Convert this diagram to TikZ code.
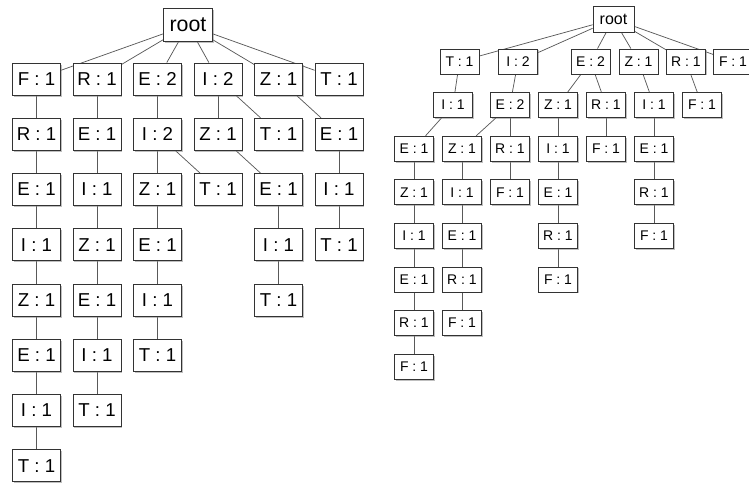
\documentclass[tikz,border=0pt]{standalone}
\usepackage{fontspec}
\setmainfont{Liberation Sans}
\usetikzlibrary{shadows,backgrounds}

\tikzset{
  boxbase/.style={draw=black!80, fill=white, line width=0.6pt, inner sep=0pt},
  bigbox/.style={boxbase, minimum width=36pt, minimum height=24pt,
    font=\fontsize{14}{16}\selectfont,
    drop shadow={shadow xshift=1.1pt, shadow yshift=-1.3pt, opacity=0.5}},
  bigroot/.style={bigbox, minimum width=36.75pt, minimum height=24.75pt,
    font=\fontsize{16}{18}\selectfont},
  smallbox/.style={boxbase, minimum width=29.25pt, minimum height=18.75pt,
    font=\fontsize{10.5}{12}\selectfont,
    drop shadow={shadow xshift=0.9pt, shadow yshift=-1.1pt, opacity=0.5}},
  smallroot/.style={smallbox, minimum width=30.75pt, minimum height=19.5pt,
    font=\fontsize{12}{14}\selectfont},
  edge/.style={draw=black!65, line width=0.55pt}
}

\begin{document}
\begin{tikzpicture}[x=0.75pt, y=-0.75pt]
\clip (0,0) rectangle (749,485);

% left tree
\node[bigroot] (lroot) at (188,25) {root};
\node[bigbox] (lF) at (36.5,79) {F : 1};
\node[bigbox] (lR) at (97,79) {R : 1};
\node[bigbox] (lE) at (157.5,79) {E : 2};
\node[bigbox] (lI) at (218,79) {I : 2};
\node[bigbox] (lZ) at (278.5,79) {Z : 1};
\node[bigbox] (lT) at (339,79) {T : 1};

\node[bigbox] (lFR) at (36.5,134.25) {R : 1};
\node[bigbox] (lFRE) at (36.5,189.5) {E : 1};
\node[bigbox] (lFREI) at (36.5,244.75) {I : 1};
\node[bigbox] (lFREIZ) at (36.5,300) {Z : 1};
\node[bigbox] (lFREIZE) at (36.5,355.25) {E : 1};
\node[bigbox] (lFREIZEI) at (36.5,410.5) {I : 1};
\node[bigbox] (lFREIZEIT) at (36.5,465.75) {T : 1};

\node[bigbox] (lRE) at (97,134.25) {E : 1};
\node[bigbox] (lREI) at (97,189.5) {I : 1};
\node[bigbox] (lREIZ) at (97,244.75) {Z : 1};
\node[bigbox] (lREIZE) at (97,300) {E : 1};
\node[bigbox] (lREIZEI) at (97,355.25) {I : 1};
\node[bigbox] (lREIZEIT) at (97,410.5) {T : 1};

\node[bigbox] (lEI) at (157.5,134.25) {I : 2};
\node[bigbox] (lEIZ) at (157.5,189.5) {Z : 1};
\node[bigbox] (lEIT) at (218,189.5) {T : 1};
\node[bigbox] (lEIZE) at (157.5,244.75) {E : 1};
\node[bigbox] (lEIZEI) at (157.5,300) {I : 1};
\node[bigbox] (lEIZEIT) at (157.5,355.25) {T : 1};

\node[bigbox] (lIZ) at (218,134.25) {Z : 1};
\node[bigbox] (lIT) at (278.5,134.25) {T : 1};
\node[bigbox] (lIZE) at (278.5,189.5) {E : 1};
\node[bigbox] (lIZEI) at (278.5,244.75) {I : 1};
\node[bigbox] (lIZEIT) at (278.5,300) {T : 1};

\node[bigbox] (lZE) at (339,134.25) {E : 1};
\node[bigbox] (lZEI) at (339,189.5) {I : 1};
\node[bigbox] (lZEIT) at (339,244.75) {T : 1};

% right tree
\node[smallroot] (rroot) at (613.5,19) {root};
\node[smallbox] (rT) at (459.5,61.5) {T : 1};
\node[smallbox] (rI) at (518,61.5) {I : 2};
\node[smallbox] (rE) at (590.5,61.5) {E : 2};
\node[smallbox] (rZ) at (638.5,61.5) {Z : 1};
\node[smallbox] (rR) at (686,61.5) {R : 1};
\node[smallbox] (rF) at (733,61.5) {F : 1};

\node[smallbox] (rTI) at (453,105.1) {I : 1};
\node[smallbox] (rTIE) at (414,148.7) {E : 1};
\node[smallbox] (rTIEZ) at (414,192.3) {Z : 1};
\node[smallbox] (rTIEZI) at (414,235.9) {I : 1};
\node[smallbox] (rTIEZIE) at (414,279.5) {E : 1};
\node[smallbox] (rTIEZIER) at (414,323.1) {R : 1};
\node[smallbox] (rTIEZIERF) at (414,366.7) {F : 1};

\node[smallbox] (rIE) at (510,105.1) {E : 2};
\node[smallbox] (rIEZ) at (462,148.7) {Z : 1};
\node[smallbox] (rIEZI) at (462,192.3) {I : 1};
\node[smallbox] (rIEZIE) at (462,235.9) {E : 1};
\node[smallbox] (rIEZIER) at (462,279.5) {R : 1};
\node[smallbox] (rIEZIERF) at (462,323.1) {F : 1};
\node[smallbox] (rIER) at (510,148.7) {R : 1};
\node[smallbox] (rIERF) at (510,192.3) {F : 1};

\node[smallbox] (rEZ) at (558,105.1) {Z : 1};
\node[smallbox] (rEZI) at (558,148.7) {I : 1};
\node[smallbox] (rEZIE) at (558,192.3) {E : 1};
\node[smallbox] (rEZIER) at (558,235.9) {R : 1};
\node[smallbox] (rEZIERF) at (558,279.5) {F : 1};
\node[smallbox] (rER) at (606,105.1) {R : 1};
\node[smallbox] (rERF) at (606,148.7) {F : 1};

\node[smallbox] (rZI) at (654,105.1) {I : 1};
\node[smallbox] (rZIE) at (654,148.7) {E : 1};
\node[smallbox] (rZIER) at (654,192.3) {R : 1};
\node[smallbox] (rZIERF) at (654,235.9) {F : 1};

\node[smallbox] (rRF) at (702,105.1) {F : 1};

% connectors behind the boxes
\begin{scope}[on background layer]
\foreach \a/\b in {lroot/lF, lroot/lR, lroot/lE, lroot/lI, lroot/lZ, lroot/lT,
    lF/lFR, lFR/lFRE, lFRE/lFREI, lFREI/lFREIZ, lFREIZ/lFREIZE, lFREIZE/lFREIZEI, lFREIZEI/lFREIZEIT,
    lR/lRE, lRE/lREI, lREI/lREIZ, lREIZ/lREIZE, lREIZE/lREIZEI, lREIZEI/lREIZEIT,
    lE/lEI, lEI/lEIZ, lEI/lEIT, lEIZ/lEIZE, lEIZE/lEIZEI, lEIZEI/lEIZEIT,
    lI/lIZ, lI/lIT, lIZ/lIZE, lIZE/lIZEI, lIZEI/lIZEIT,
    lZ/lZE, lZE/lZEI, lZEI/lZEIT}
  \draw[edge] (\a) -- (\b);
\foreach \a/\b in {rroot/rT, rroot/rI, rroot/rE, rroot/rZ, rroot/rR, rroot/rF,
    rT/rTI, rTI/rTIE, rTIE/rTIEZ, rTIEZ/rTIEZI, rTIEZI/rTIEZIE, rTIEZIE/rTIEZIER, rTIEZIER/rTIEZIERF,
    rI/rIE, rIE/rIEZ, rIEZ/rIEZI, rIEZI/rIEZIE, rIEZIE/rIEZIER, rIEZIER/rIEZIERF, rIE/rIER, rIER/rIERF,
    rE/rEZ, rEZ/rEZI, rEZI/rEZIE, rEZIE/rEZIER, rEZIER/rEZIERF, rE/rER, rER/rERF,
    rZ/rZI, rZI/rZIE, rZIE/rZIER, rZIER/rZIERF,
    rR/rRF}
  \draw[edge] (\a) -- (\b);
\end{scope}
\end{tikzpicture}
\end{document}
